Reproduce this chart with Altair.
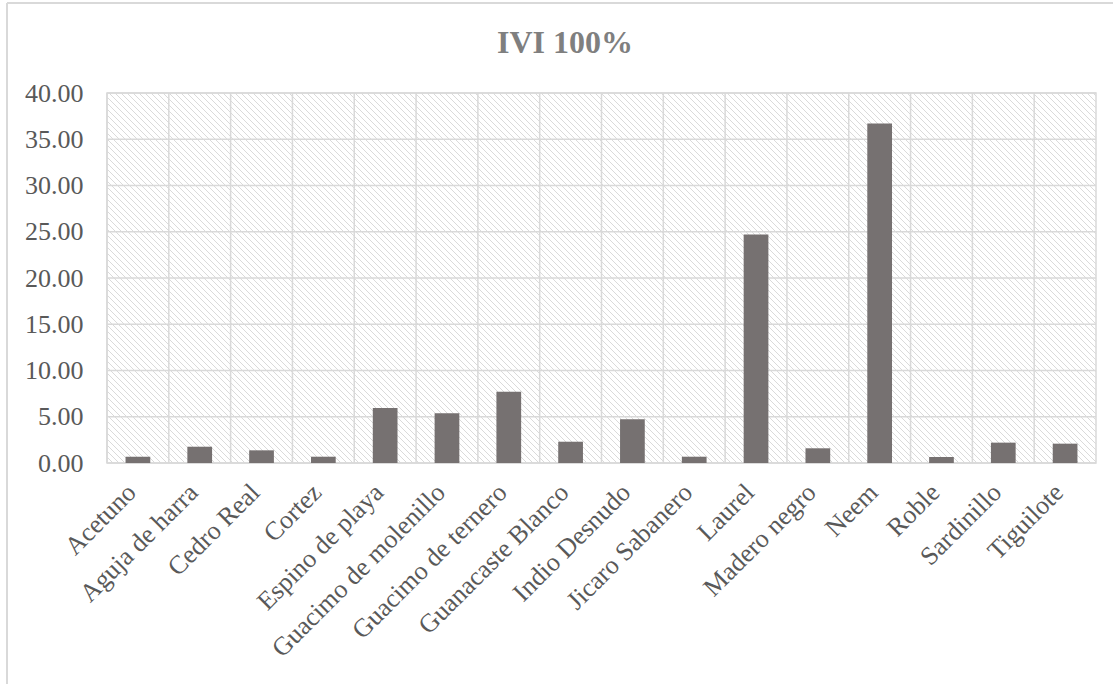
import altair as alt
import numpy as np
import pandas as pd

# Importance value index (IVI, %) per species
species = [
    "Acetuno", "Aguja de harra", "Cedro Real", "Cortez", "Espino de playa",
    "Guacimo de molenillo", "Guacimo de ternero", "Guanacaste Blanco",
    "Indio Desnudo", "Jicaro Sabanero", "Laurel", "Madero negro", "Neem",
    "Roble", "Sardinillo", "Tiguilote",
]
ivi = [0.68, 1.76, 1.37, 0.68, 5.95, 5.37, 7.71, 2.30,
       4.72, 0.68, 24.7, 1.59, 36.7, 0.65, 2.20, 2.09]
y_ticks = [0, 5, 10, 15, 20, 25, 30, 35, 40]

W, H = 989, 370          # plot area in pixels
SERIF = "Liberation Serif"
GRID = "#d9d9d9"
TEXT = "#595959"

bars_df = pd.DataFrame({"species": species, "ivi": ivi})

xs = alt.Scale(domain=species, paddingInner=0.6, paddingOuter=0.3)
ys = alt.Scale(domain=[0, 40], nice=False, zero=True)

# diagonal hatch texture filling the plot background
step = 6
t = np.arange(-H, W + step, step)
hatch_df = pd.DataFrame({"x": t, "y": H, "x2": t + H, "y2": 0})
hatch = alt.Chart(hatch_df).mark_rule(
    clip=True, color="#dadada", strokeWidth=1
).encode(
    x=alt.X("x:Q", scale=alt.Scale(domain=[0, W], nice=False, zero=False), axis=None),
    x2="x2:Q",
    y=alt.Y("y:Q", scale=alt.Scale(domain=[0, H], nice=False, zero=False), axis=None),
    y2="y2:Q",
)

# horizontal gridlines at the y tick values
hgrid = alt.Chart(pd.DataFrame({"v": y_ticks})).mark_rule(
    color=GRID, strokeWidth=1.5
).encode(y=alt.Y("v:Q", scale=ys, axis=None))

# vertical gridlines on category boundaries
vgrid = alt.Chart(bars_df).mark_rule(
    color=GRID, strokeWidth=1.5, xOffset=-W / 32
).encode(x=alt.X("species:N", scale=xs, sort=None, axis=None))

bars = alt.Chart(bars_df).mark_bar(color="#767171").encode(
    x=alt.X(
        "species:N", scale=xs, sort=None, title=None,
        axis=alt.Axis(
            labelAngle=-45, labelAlign="right", labelBaseline="middle",
            labelFont=SERIF, labelFontSize=26, labelColor=TEXT,
            labelPadding=25, labelOffset=-6, labelLimit=600,
            ticks=False, domain=False, grid=False, labelOverlap=False,
        ),
    ),
    y=alt.Y(
        "ivi:Q", scale=ys, title=None,
        axis=alt.Axis(
            values=y_ticks, format=".2f", labelFont=SERIF, labelFontSize=26,
            labelColor=TEXT, labelPadding=24, ticks=False, domain=False,
            grid=False,
        ),
    ),
)

one = pd.DataFrame({"k": [0]})

title = alt.Chart(one).mark_text(
    text="IVI 100%", font=SERIF, fontSize=32, fontWeight="bold",
    color="#7f7f7f", align="center", baseline="alphabetic",
).encode(x=alt.value(458), y=alt.value(-40))

# outer frame of the chart
frame_left = alt.Chart(one).mark_rule(color=GRID, strokeWidth=2).encode(
    x=alt.value(-100), y=alt.value(-90), y2=alt.value(600)
)
frame_top = alt.Chart(one).mark_rule(color=GRID, strokeWidth=2).encode(
    x=alt.value(-100), x2=alt.value(1020), y=alt.value(-90)
)

chart = alt.layer(
    hatch, hgrid, vgrid, bars, title, frame_left, frame_top
).resolve_scale(
    x="independent", y="independent"
).properties(
    width=W, height=H,
    autosize=alt.AutoSizeParams(type="none"),
    padding={"left": 107, "top": 93, "right": 17, "bottom": 221},
    background="white",
).configure_view(
    stroke=GRID, strokeWidth=1.5
)

chart.save("out.html", embed_options={"renderer": "svg", "actions": False})
